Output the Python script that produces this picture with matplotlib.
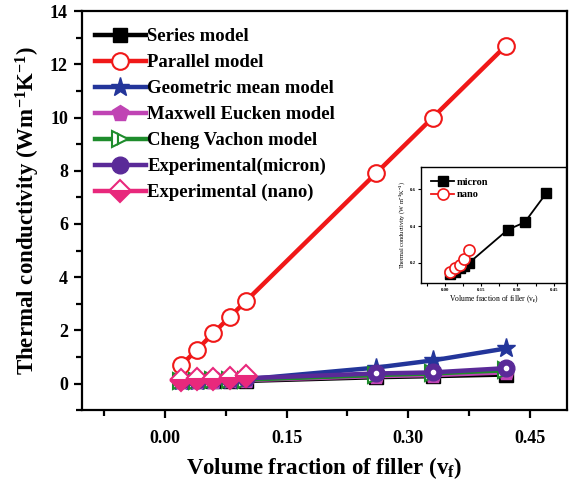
import matplotlib
matplotlib.use('Agg')
import matplotlib.pyplot as plt
from matplotlib.ticker import MultipleLocator

plt.rcParams['font.family'] = 'Liberation Serif'
plt.rcParams['font.weight'] = 'bold'
plt.rcParams['mathtext.fontset'] = 'custom'
plt.rcParams['mathtext.rm'] = 'Liberation Serif:bold'
plt.rcParams['mathtext.it'] = 'Liberation Serif:bold'
plt.rcParams['mathtext.bf'] = 'Liberation Serif:bold'

# fracciones de volumen
vf = [0.02, 0.04, 0.06, 0.08, 0.10, 0.26, 0.33, 0.42]
vf_nano = [0.02, 0.04, 0.06, 0.08, 0.10]

# conductividad termica (W/mK)
serie = [0.08, 0.09, 0.09, 0.10, 0.10, 0.24, 0.28, 0.34]
paralelo = [0.68, 1.28, 1.90, 2.50, 3.10, 7.90, 10.0, 12.7]
geometrico = [0.10, 0.11, 0.12, 0.14, 0.16, 0.60, 0.87, 1.32]
maxwell = [0.09, 0.10, 0.11, 0.12, 0.13, 0.28, 0.32, 0.42]
cheng = [0.10, 0.11, 0.12, 0.13, 0.15, 0.32, 0.38, 0.50]
micron = [0.14, 0.15, 0.17, 0.18, 0.20, 0.38, 0.42, 0.58]
nano = [0.15, 0.17, 0.19, 0.22, 0.27]

fig = plt.figure(figsize=(5.72, 4.82), dpi=100)
ax = fig.add_axes([0.143, 0.149, 0.848, 0.828])

lw = 3.2
ax.plot(vf, serie, '-s', color='black', lw=lw, ms=10, label='Series model')
ax.plot(vf, paralelo, '-o', color='#f01818', lw=lw, ms=12, mfc='white', mew=1.5, label='Parallel model')
ax.plot(vf, geometrico, '-*', color='#23359a', lw=lw, ms=14, label='Geometric mean model')
ax.plot(vf, maxwell, '-p', color='#c044b4', lw=lw, ms=12, label='Maxwell Eucken model')
ax.plot(vf, cheng, '->', color='#1e8c2c', lw=lw, ms=11, mfc='white', fillstyle='left',
        mfcalt='white', mew=1.5, label='Cheng Vachon model')
ax.plot(vf, micron, '-o', color='#5a2a98', lw=lw, ms=12, label='Experimental(micron)')
ax.plot(vf, micron, 'o', color='white', ms=3)
ax.plot(vf_nano, nano, '-D', color='#e8287c', lw=lw, ms=11, fillstyle='bottom',
        mfcalt='white', mew=1.5, label='Experimental (nano)')

ax.set_xlim(-0.102, 0.495)
ax.set_ylim(-1, 14)
ax.set_xticks([0.0, 0.15, 0.30, 0.45])
ax.set_xticklabels(['0.00', '0.15', '0.30', '0.45'])
ax.xaxis.set_minor_locator(MultipleLocator(0.075))
ax.yaxis.set_minor_locator(MultipleLocator(1))
ax.set_yticks([0, 2, 4, 6, 8, 10, 12, 14])
for s in ax.spines.values():
    s.set_linewidth(1.6)
ax.tick_params(which='major', direction='out', length=6, width=1.6, labelsize=13, pad=8)
ax.tick_params(axis='y', which='major', pad=4)
ax.tick_params(which='minor', direction='out', length=4, width=1.6)

ax.set_xlabel('Volume fraction of filler (v$_f$)', fontsize=16.5, fontweight='bold', labelpad=6)
ax.set_ylabel('Thermal conductivity (Wm$^{-1}$K$^{-1}$)', fontsize=16.5, fontweight='bold', labelpad=6)

ax.legend(loc='upper left', bbox_to_anchor=(0.0, 0.99), frameon=False, fontsize=13.5,
          handlelength=2.7, handletextpad=0.1, labelspacing=0.47, borderaxespad=0.3)

# grafico insertado
ins = fig.add_axes([0.736, 0.413, 0.253, 0.24])
ins.plot(vf, micron, '-s', color='black', lw=1.3, ms=7, label='micron')
ins.plot(vf_nano, nano, '-o', color='#f01818', lw=1.3, ms=8, mfc='white', mew=1.2, label='nano')
ins.set_xlim(-0.1, 0.5)
ins.set_ylim(0.09, 0.72)
ins.set_xticks([0.0, 0.15, 0.30, 0.45])
ins.set_xticklabels(['0.00', '0.15', '0.30', '0.45'])
ins.xaxis.set_minor_locator(MultipleLocator(0.075))
ins.set_yticks([0.2, 0.4, 0.6])
ins.set_yticklabels(['0.2', '0.4', '0.6'])
ins.tick_params(which='both', direction='out', length=2, width=0.8, labelsize=3.5, pad=1.5)
for s in ins.spines.values():
    s.set_linewidth(1.0)
ins.set_xlabel('Volume fraction of filler (v$_f$)', fontsize=5.5, labelpad=1)
ins.set_ylabel('Thermal conductivity (W m$^{-1}$K$^{-1}$)', fontsize=4.5, labelpad=2)
ins.legend(loc='upper left', frameon=False, fontsize=7.5, handlelength=2.2,
           handletextpad=0.2, labelspacing=0.3, borderaxespad=0.6)

fig.savefig('out.png', dpi=100)
